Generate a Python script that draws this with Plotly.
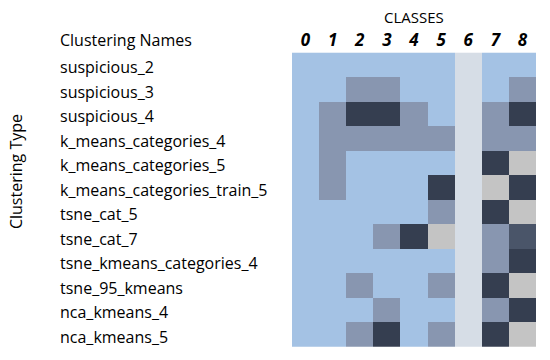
import plotly.graph_objects as go

classes = ["0", "1", "2", "3", "4", "5", "6", "7", "8"]
names = [
    "suspicious_2",
    "suspicious_3",
    "suspicious_4",
    "k_means_categories_4",
    "k_means_categories_5",
    "k_means_categories_train_5",
    "tsne_cat_5",
    "tsne_cat_7",
    "tsne_kmeans_categories_4",
    "tsne_95_kmeans",
    "nca_kmeans_4",
    "nca_kmeans_5",
]
# codes: 0 light blue, 1 medium slate, 2 dark, 3 light gray, 4 dark slate, 5 empty column
levels = [
    [0, 0, 0, 0, 0, 0, 5, 0, 0],
    [0, 0, 1, 1, 0, 0, 5, 0, 1],
    [0, 1, 2, 2, 1, 0, 5, 1, 2],
    [0, 1, 1, 1, 1, 1, 5, 1, 1],
    [0, 1, 0, 0, 0, 0, 5, 2, 3],
    [0, 1, 0, 0, 0, 2, 5, 3, 2],
    [0, 0, 0, 0, 0, 1, 5, 2, 3],
    [0, 0, 0, 1, 2, 3, 5, 1, 4],
    [0, 0, 0, 0, 0, 0, 5, 1, 2],
    [0, 0, 1, 0, 0, 1, 5, 2, 3],
    [0, 0, 0, 1, 0, 0, 5, 1, 2],
    [0, 0, 1, 2, 0, 1, 5, 2, 3],
]
palette = ["#a4c2e4", "#8896b0", "#353e50", "#c4c4c4", "#4a5569", "#d6dde6"]

n = len(palette)
colorscale = []
for i, c in enumerate(palette):
    colorscale.append([i / n, c])
    colorscale.append([(i + 1) / n, c])

FONT = "Open Sans"

fig = go.Figure(
    go.Heatmap(
        z=levels,
        x=classes,
        y=names,
        colorscale=colorscale,
        zmin=-0.5,
        zmax=n - 0.5,
        showscale=False,
        hoverinfo="skip",
    )
)

for nm in names:
    fig.add_annotation(
        x=0, xref="paper", xshift=-234, y=nm, yref="y", yshift=-2,
        text=nm, showarrow=False, xanchor="left", yanchor="middle",
        font=dict(family=FONT, size=16, color="#000"),
    )

fig.add_annotation(
    x=0, xref="paper", xshift=-234, y=1, yref="paper", yshift=10,
    text="Clustering Names", showarrow=False, xanchor="left", yanchor="middle",
    font=dict(family=FONT, size=16, color="#000"),
)
fig.add_annotation(
    x=0, xref="paper", xshift=-276, y=0.589, yref="paper",
    text="Clustering Type", showarrow=False, textangle=-90,
    xanchor="center", yanchor="middle",
    font=dict(family=FONT, size=16, color="#000"),
)
fig.add_annotation(
    x=0.5, xref="paper", y=1, yref="paper", yshift=33,
    text="CLASSES", showarrow=False, xanchor="center", yanchor="middle",
    font=dict(family=FONT, size=15, color="#000"),
)

fig.update_xaxes(
    side="top",
    tickmode="array",
    tickvals=classes,
    ticktext=[f"<b><i>{c}</i></b>" for c in classes],
    tickfont=dict(family=FONT, size=17, color="#000"),
    showgrid=False, zeroline=False, ticks="", ticklen=0,
)
fig.update_yaxes(
    autorange="reversed", showticklabels=False,
    showgrid=False, zeroline=False, ticks="",
)

fig.update_layout(
    width=550, height=360,
    margin=dict(l=292, r=14, t=50, b=13),
    paper_bgcolor="white", plot_bgcolor="white",
)

fig.write_html(
    "out.html",
    config={"displayModeBar": False},
    post_script="document.body.style.margin='0';document.body.style.overflow='hidden';",
)
